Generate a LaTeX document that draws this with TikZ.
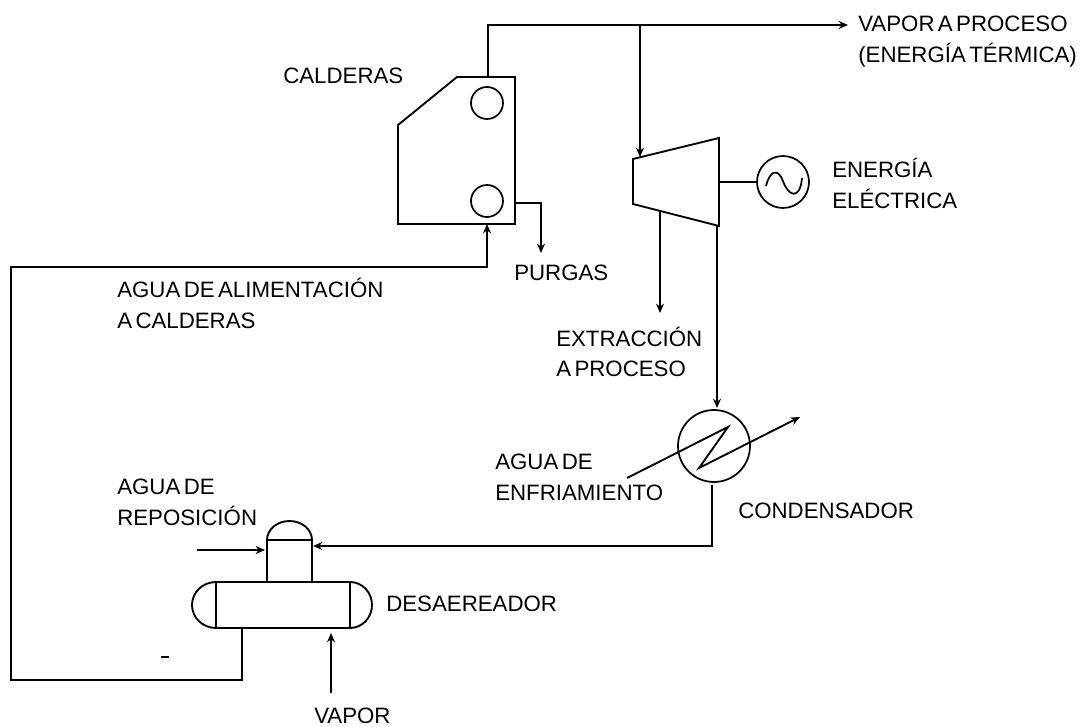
\documentclass[tikz,border=0pt]{standalone}
\usepackage{fontspec}
\setmainfont[WordSpace=0.55]{Liberation Sans}
\usetikzlibrary{arrows.meta}
\tikzset{
  pipe/.style={line width=1.4pt},
  flow/.style={line width=1.4pt,-{Stealth[length=7pt,width=6pt]}},
  unit/.style={circle,draw,line width=1.3pt,inner sep=0pt},
  lbl/.style={anchor=base west,inner sep=0pt,align=left,font=\fontsize{16.7}{23.25}\selectfont}
}
\begin{document}
\begin{tikzpicture}[x=0.75pt,y=0.75pt]
\useasboundingbox (0,0) rectangle (1083,726);
% caldera
\coordinate (bA) at (398,502);
\coordinate (bB) at (398,601);
\coordinate (bC) at (457,649);
\coordinate (bD) at (515,649);
\coordinate (bE) at (515,502);
\draw[pipe] (bA)--(bB)--(bC)--(bD)--(bE)--cycle;
\node[unit,minimum size=24pt] (steamdrum) at (487,623) {};
\node[unit,minimum size=24pt] (mudrum) at (487,525) {};
% turbina y generador
\coordinate (tA) at (633,522);
\coordinate (tB) at (633,567);
\coordinate (tC) at (719,588);
\coordinate (tD) at (719,500);
\draw[pipe] (tA)--(tB)--(tC)--(tD)--cycle;
\node[unit,minimum size=39pt] (gen) at (783,544) {};
\draw[line width=1.3pt] (766,540) .. controls (770,556) and (778,558) .. (783,545) .. controls (788,530) and (800,525) .. (802,548);
\draw[pipe] (gen.west-|tD)--(gen.west);
% condensador
\node[unit,minimum size=54pt] (cond) at (714,280) {};
\coordinate (zIn) at (627,248);
\coordinate (zA) at (728,299);
\coordinate (zB) at (699,258);
\coordinate (zOut) at (800,309);
\draw[flow] (zIn)--(zA)--(zB)--(zOut);
% desaereador
\coordinate (nA) at (267,144);
\coordinate (nB) at (267,186);
\coordinate (nC) at (312,186);
\coordinate (nD) at (312,144);
\coordinate (dA) at (216,144);
\coordinate (dB) at (350,144);
\coordinate (dC) at (350,98);
\coordinate (dD) at (216,98);
\draw[pipe] (nA)--(nB)--(nC)--(nD);
\draw[pipe] (nB) arc[start angle=180,end angle=0,x radius=22.5,y radius=19];
\draw[pipe] (dA)--(dB)--(dC)--(dD)--cycle;
\draw[pipe] (dA) arc[start angle=90,end angle=270,x radius=24,y radius=23];
\draw[pipe] (dB) arc[start angle=90,end angle=-90,x radius=22,y radius=23];
% lineas
\coordinate (steamOut) at (488,649);
\coordinate (steamEnd) at (848,701);
\coordinate (branch) at (640,701);
\draw[flow] (steamOut)--(488,701)--(steamEnd);
\draw[flow] (branch)--(640,569);
\draw[flow] (660,515)--(660,413);
\draw[flow] (717,500)--(717,318);
\draw[flow] (712,241)--(712,180)--(313,180);
\draw[flow] (197,176)--(265,176);
\draw[flow] (331,33)--(331,93);
\draw[flow] (242,98)--(242,46)--(11,46)--(11,459)--(487,459)--(bA-|mudrum);
\draw[flow] (515,523)--(541,523)--(541,473);
\draw[pipe] (161,69)--(169,69);
% textos
\node[lbl] (proc) at (858,663) {VAPOR A PROCESO\\(ENERGÍA TÉRMICA)};
\node[lbl] (cald) at (283,642) {CALDERAS};
\node[lbl] (elec) at (832,517) {ENERGÍA\\ELÉCTRICA};
\node[lbl] (purg) at (514,445) {PURGAS};
\node[lbl] (alim) at (117,397) {AGUA DE ALIMENTACIÓN\\A CALDERAS};
\node[lbl] (extr) at (556,349) {EXTRACCIÓN\\A PROCESO};
\node[lbl] (enfr) at (495,225) {AGUA DE\\ENFRIAMIENTO};
\node[lbl] (cdsr) at (738,208) {CONDENSADOR};
\node[lbl] (repo) at (117,200) {AGUA DE\\REPOSICIÓN};
\node[lbl] (desa) at (386,115) {DESAEREADOR};
\node[lbl] (vapo) at (314,3) {VAPOR};
\end{tikzpicture}
\end{document}
